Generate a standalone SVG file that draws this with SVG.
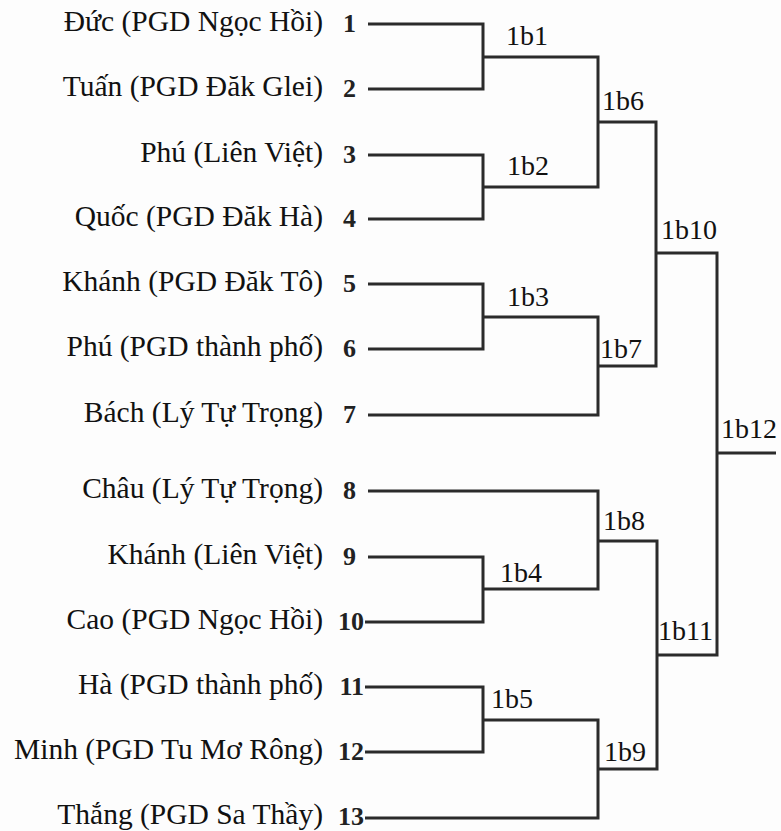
<svg xmlns="http://www.w3.org/2000/svg" width="781" height="831" viewBox="0 0 781 831">
<style>
.nm{font-family:"Liberation Serif","Times New Roman",serif;font-size:29.5px;fill:#111;text-anchor:end}
.no{font-family:"Liberation Serif","Times New Roman",serif;font-size:26px;font-weight:bold;fill:#222}
.n2{text-anchor:end}
.mt{font-family:"Liberation Serif","Times New Roman",serif;font-size:28px;fill:#111}
.cn{fill:none;stroke:#2b2b2b;stroke-width:3;stroke-linejoin:miter;stroke-linecap:butt}
</style>
<rect width="781" height="831" fill="#fdfdfd"/>
<g id="connectors" class="cn">
<path d="M368,24 H483 V89 H368"/>
<path d="M368,155 H483 V219 H368"/>
<path d="M483,57 H598 V187 H483"/>
<path d="M368,284 H483 V349 H368"/>
<path d="M483,317 H598 V415 H368"/>
<path d="M598,122 H656 V366 H598"/>
<path d="M656,253 H717 V655 H657"/>
<path d="M717,453 H776"/>
<path d="M368,491 H598 V589 H483"/>
<path d="M368,557 H483 V622 H365"/>
<path d="M598,541 H657 V769 H598"/>
<path d="M365,687 H483 V752 H365"/>
<path d="M483,720 H598 V818 H365"/>
</g>
<g id="p1"><text class="nm" x="323" y="31">Đức (PGD Ngọc Hồi)</text><text class="no" x="343" y="32">1</text></g>
<g id="p2"><text class="nm" x="323" y="96">Tuấn (PGD Đăk Glei)</text><text class="no" x="343" y="97">2</text></g>
<g id="p3"><text class="nm" x="323" y="162">Phú (Liên Việt)</text><text class="no" x="343" y="163">3</text></g>
<g id="p4"><text class="nm" x="323" y="226">Quốc (PGD Đăk Hà)</text><text class="no" x="343" y="227">4</text></g>
<g id="p5"><text class="nm" x="323" y="291">Khánh (PGD Đăk Tô)</text><text class="no" x="343" y="292">5</text></g>
<g id="p6"><text class="nm" x="323" y="356">Phú (PGD thành phố)</text><text class="no" x="343" y="357">6</text></g>
<g id="p7"><text class="nm" x="323" y="422">Bách (Lý Tự Trọng)</text><text class="no" x="343" y="423">7</text></g>
<g id="p8"><text class="nm" x="323" y="498">Châu (Lý Tự Trọng)</text><text class="no" x="343" y="499">8</text></g>
<g id="p9"><text class="nm" x="323" y="564">Khánh (Liên Việt)</text><text class="no" x="343" y="565">9</text></g>
<g id="p10"><text class="nm" x="323" y="629">Cao (PGD Ngọc Hồi)</text><text class="no n2" x="364" y="630">10</text></g>
<g id="p11"><text class="nm" x="323" y="694">Hà (PGD thành phố)</text><text class="no n2" x="364" y="695">11</text></g>
<g id="p12"><text class="nm" x="323" y="759">Minh (PGD Tu Mơ Rông)</text><text class="no n2" x="364" y="760">12</text></g>
<g id="p13"><text class="nm" x="323" y="824">Thắng (PGD Sa Thầy)</text><text class="no n2" x="364" y="825">13</text></g>
<g id="m1b1"><text class="mt" x="506" y="45">1b1</text></g>
<g id="m1b2"><text class="mt" x="507" y="175">1b2</text></g>
<g id="m1b3"><text class="mt" x="507" y="306">1b3</text></g>
<g id="m1b4"><text class="mt" x="500" y="582">1b4</text></g>
<g id="m1b5"><text class="mt" x="491" y="708">1b5</text></g>
<g id="m1b6"><text class="mt" x="602" y="110">1b6</text></g>
<g id="m1b7"><text class="mt" x="600" y="358">1b7</text></g>
<g id="m1b8"><text class="mt" x="603" y="530">1b8</text></g>
<g id="m1b9"><text class="mt" x="604" y="761">1b9</text></g>
<g id="m1b10"><text class="mt" x="661" y="239">1b10</text></g>
<g id="m1b11"><text class="mt" x="658" y="640">1b11</text></g>
<g id="m1b12"><text class="mt" x="721" y="438">1b12</text></g>
</svg>
